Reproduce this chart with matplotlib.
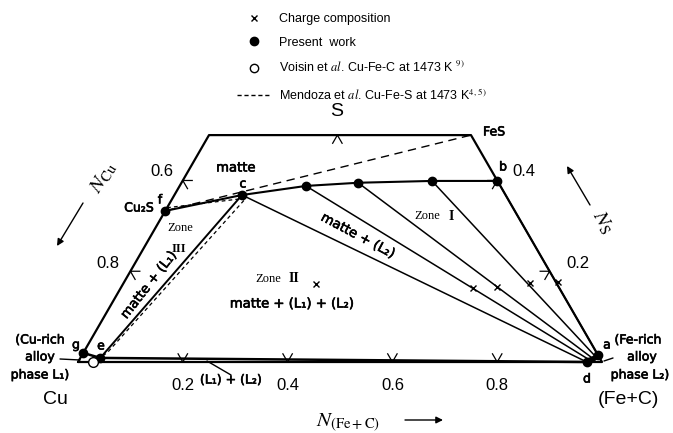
import numpy as np
import matplotlib.pyplot as plt
import matplotlib.patheffects as pe
from matplotlib.lines import Line2D

# compositions are (N_(Fe+C), N_S)
outline_fe = [0.0, 0.0, 0.5, 1.0, 0.0]
outline_s = [0.0, 0.5, 0.5, 0.0, 0.0]

# matte boundary (present work): f, c, three tie-line points, b
matte_fe = [0.0, 0.129, 0.241, 0.337, 0.476, 0.601]
matte_s = [0.333, 0.368, 0.388, 0.395, 0.399, 0.399]

# Fe-rich alloy (L2) ends of the tie lines: d ... a
alloy2_fe = [0.971, 0.975, 0.980, 0.983, 0.985]
alloy2_s = [0.0, 0.004, 0.007, 0.011, 0.015]

# Cu-rich alloy points g and e, Voisin point
pt_g = (0.0, 0.020)
pt_e = (0.038, 0.009)
voisin_fe = [0.029]
voisin_s = [0.0]

# charge compositions
charge_fe = [0.368, 0.672, 0.717, 0.775, 0.828]
charge_s = [0.172, 0.163, 0.165, 0.174, 0.176]

# Mendoza et al. (dashed)
mend1_fe = [0.0, 0.5]
mend1_s = [0.333, 0.5]
mend2_fe = [0.0, 0.140, 0.046, 0.038]
mend2_s = [0.340, 0.361, 0.022, 0.009]

bottom_ticks = [0.2, 0.4, 0.6, 0.8]
bottom_labels = ["0.2", "0.4", "0.6", "0.8"]
side_ticks = [0.2, 0.4]
top_tick = 0.245

W, H = 673, 433
comic = "DejaVu Sans"
arial = "Liberation Sans"
serif = "Liberation Serif"
plt.rcParams["mathtext.fontset"] = "stix"
thick = [pe.withStroke(linewidth=0.45, foreground="k")]


def xy(nfe, ns):
    nfe = np.asarray(nfe, dtype=float)
    ns = np.asarray(ns, dtype=float)
    return nfe + 0.5 * ns, np.sqrt(3) / 2 * ns


def lab(x, y, s, **kw):
    kw.setdefault("ha", "center")
    kw.setdefault("va", "center")
    fig.text(x / W, 1 - y / H, s, **kw)


def hand(x, y, s, size=9.5, **kw):
    # hand-lettered labels of the original
    lab(x, y, s, family=comic, size=size, path_effects=thick, **kw)


fig = plt.figure(figsize=(W / 100, H / 100), dpi=100)
ax = fig.add_axes([0, 0, 1, 1])
ax.set_xlim(-78 / 524, 595 / 524)
ax.set_ylim(-71 / 524, 362 / 524)
ax.axis("off")

k = dict(color="k", solid_capstyle="round")
ax.plot(*xy(outline_fe, outline_s), lw=1.6, **k)

# matte boundary and tie lines
ax.plot(*xy(matte_fe, matte_s), lw=1.5, **k)
for i in range(1, len(matte_fe)):
    j = i - 1
    ax.plot(*xy([matte_fe[i], alloy2_fe[j]], [matte_s[i], alloy2_s[j]]), lw=1.1, **k)
ax.plot(*xy(alloy2_fe, alloy2_s), lw=4, **k)

# zone III boundary and L1+L2 band
ax.plot(*xy([pt_e[0], matte_fe[1]], [pt_e[1], matte_s[1]]), lw=1.4, **k)
ax.plot(*xy([pt_g[0], pt_e[0], alloy2_fe[0]], [pt_g[1], pt_e[1], alloy2_s[0]]), lw=1.8, **k)

# Mendoza dashed lines
ax.plot(*xy(mend1_fe, mend1_s), color="k", lw=1.0, ls=(0, (6, 4)))
ax.plot(*xy(mend2_fe, mend2_s), color="k", lw=0.9, ls=(0, (3, 2.5)))

# points
ax.plot(*xy(matte_fe, matte_s), "o", color="k", ms=6)
ax.plot(*xy([pt_g[0], pt_e[0], alloy2_fe[0], alloy2_fe[-1]],
            [pt_g[1], pt_e[1], alloy2_s[0], alloy2_s[-1]]), "o", color="k", ms=6)
ax.plot(*xy(voisin_fe, voisin_s), "o", mfc="white", mec="k", mew=1.0, ms=7)
ax.plot(*xy(charge_fe, charge_s), "x", color="k", ms=5, mew=1.0)

# tick marks along the grid directions
L = 0.018
r3 = np.sqrt(3) / 2
for t in bottom_ticks:
    x0, y0 = xy(t, 0)
    ax.plot([x0 - 0.5 * L, x0, x0 + 0.5 * L], [y0 + r3 * L, y0, y0 + r3 * L], color="k", lw=0.9)
for t in side_ticks:
    x0, y0 = xy(0, t)
    ax.plot([x0 + L, x0, x0 + 0.5 * L], [y0, y0, y0 - r3 * L], color="k", lw=0.9)
    x1, y1 = xy(1 - t, t)
    ax.plot([x1 - L, x1, x1 - 0.5 * L], [y1, y1, y1 - r3 * L], color="k", lw=0.9)
x0, y0 = xy(top_tick, 0.5)
ax.plot([x0 - 0.5 * L, x0, x0 + 0.5 * L], [y0 - r3 * L, y0, y0 - r3 * L], color="k", lw=0.9)

# legend
handles = [
    Line2D([], [], ls="none", marker="x", color="k", ms=5, mew=1.0),
    Line2D([], [], ls="none", marker="o", color="k", ms=6),
    Line2D([], [], ls="none", marker="o", mfc="white", mec="k", ms=6),
    Line2D([], [], color="k", lw=1.0, ls=(0, (3, 2))),
]
labels = [
    "Charge composition",
    "Present  work",
    "Voisin et $\\mathit{al}$. Cu-Fe-C at 1473 K $^{9)}$",
    "Mendoza et $\\mathit{al}$. Cu-Fe-S at 1473 K$^{4,\\,5)}$",
]
ax.legend(handles, labels, loc="upper left", bbox_to_anchor=(226 / W, 1 - 2 / H),
          bbox_transform=fig.transFigure, frameon=False, prop={"family": arial, "size": 9},
          handlelength=2.7, handletextpad=0.65, labelspacing=0.92, borderpad=0.4)

# labels
lab(337, 111, "S", family=arial, size=14)
lab(55, 400, "Cu", family=arial, size=14)
lab(628, 400, "(Fe+C)", family=arial, size=14)
for t, s in zip(bottom_ticks, bottom_labels):
    lab(78 + 524 * t, 386, s, family=arial, size=12)
lab(162, 172, "0.6", family=arial, size=12)
lab(108, 263, "0.8", family=arial, size=12)
lab(524, 172, "0.4", family=arial, size=12)
lab(578, 263, "0.2", family=arial, size=12)

hand(483, 132, "FeS", size=9, ha="left")
hand(503, 167, "b", size=9)
hand(139, 208, "Cu₂S", size=9)
hand(160, 200, "f", size=9)
hand(243, 184, "c", size=9)
hand(236, 168, "matte")
hand(607, 345, "a", size=9)
hand(587, 379, "d", size=9)
hand(101, 346, "e", size=9)
hand(76, 345, "g", size=9)

lab(180, 228, "Zone", family=serif, size=9)
lab(179, 249, "III", family=serif, size=9, weight="bold")
lab(427, 216, "Zone", family=serif, size=9)
lab(451, 216, "I", family=serif, size=10, weight="bold")
lab(268, 279, "Zone", family=serif, size=9)
lab(294, 279, "II", family=serif, size=10, weight="bold")

hand(292, 304, "matte + (L₁) + (L₂)")
hand(358, 236, "matte + (L₂)", rotation=-28)
hand(149, 285, "matte + (L₁)", rotation=52)
hand(231, 380, "(L₁) + (L₂)", size=9)

hand(40, 340, "(Cu-rich", size=9)
hand(40, 357, "alloy", size=9)
hand(40, 375, "phase L₁)", size=9)
hand(638, 340, "(Fe-rich", size=9)
hand(642, 357, "alloy", size=9)
hand(640, 375, "phase L₂)", size=9)

lab(348, 423, "$N_{\\mathrm{(Fe+C)}}$", size=15)
lab(103, 178, "$N_{\\mathrm{Cu}}$", size=15, rotation=58)
lab(603, 222, "$N_{\\mathrm{S}}$", size=15, rotation=-60)

# arrows and leader lines (figure pixels)
def arrow(x0, y0, x1, y1, head=True):
    fig.add_artist(plt.Annotation("", xy=(x1 / W, 1 - y1 / H), xytext=(x0 / W, 1 - y0 / H),
                                  xycoords="figure fraction", textcoords="figure fraction",
                                  arrowprops=dict(arrowstyle="-|>" if head else "-", color="k",
                                                  lw=1.0, mutation_scale=10, shrinkA=0, shrinkB=0)))


arrow(405, 420, 443, 420)
arrow(83, 203, 57, 246)
arrow(590, 205, 567, 166)
arrow(231, 375, 207, 361, head=False)
arrow(60, 359, 80, 360, head=False)
arrow(613, 358, 604, 361, head=False)

fig.savefig("out.png", dpi=100)
